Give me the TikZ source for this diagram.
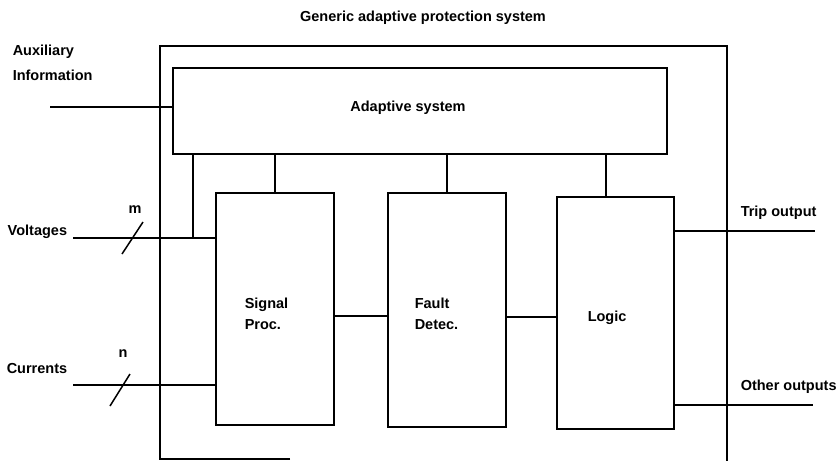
\documentclass[tikz,border=0pt]{standalone}
\usepackage{fontspec}
\setmainfont{Liberation Sans}
\begin{document}
\begin{tikzpicture}[x=1pt,y=-1pt,
  line width=1.5pt,
  every node/.style={font=\fontsize{14.5}{17}\selectfont\bfseries, inner sep=0pt},
  blk/.style={draw, line width=1.5pt, minimum width=#1},
  lbl/.style={anchor=west, align=left}
]
\useasboundingbox (0,0) rectangle (838,461);
% outer frame
\draw (290,459) -- (160,459) -- (160,46) -- (727,46) -- (727,461);
\node (title) at (423,18) {Generic adaptive protection system};
% blocks
\node[blk=494pt, minimum height=86pt] (adapt) at (420,111) {};
\node (adaptlbl) at (408,108) {Adaptive system};
\node[blk=118pt, minimum height=232pt] (sig) at (275,309) {};
\node[blk=118pt, minimum height=234pt] (fault) at (447,310) {};
\node[blk=117pt, minimum height=232pt] (logic) at (615.5,313) {};
\node[lbl] (siglbl) at (244,314) {Signal\\[4pt]Proc.};
\node[lbl] (faultlbl) at (414,314) {Fault\\[4pt]Detec.};
\node[lbl] (logiclbl) at (587,318) {Logic};
% inputs
\node[lbl] (auxlbl) at (12,63) {Auxiliary\\[8pt]Information};
\node[lbl] (vlbl) at (7,232) {Voltages};
\node[lbl] (clbl) at (6,369) {Currents};
\node (mlbl) at (135,210) {m};
\node (nlbl) at (123,354) {n};
\coordinate (ain) at (50,107);
\coordinate (vin) at (73,238);
\coordinate (cin) at (73,385);
\draw (ain) -- (ain -| adapt.west);
\draw (vin) -- (vin -| sig.west);
\draw (cin) -- (cin -| sig.west);
\coordinate (vs1) at (122,254); \coordinate (vs2) at (143,222);
\coordinate (cs1) at (110,406); \coordinate (cs2) at (130,374);
\draw (vs1) -- (vs2);
\draw (cs1) -- (cs2);
% adaptive links
\coordinate (vj) at (193,238);
\draw (vj) -- (vj |- adapt.south);
\draw (sig.north) -- (sig.north |- adapt.south);
\draw (fault.north) -- (fault.north |- adapt.south);
\coordinate (lj) at (606,0);
\draw (lj |- logic.north) -- (lj |- adapt.south);
% chain
\coordinate (sf) at (0,316);
\draw (sig.east |- sf) -- (fault.west |- sf);
\coordinate (fl) at (0,317);
\draw (fault.east |- fl) -- (logic.west |- fl);
% outputs
\coordinate (trip) at (815,231);
\coordinate (oth) at (813,405);
\draw (logic.east |- trip) -- (trip);
\draw (logic.east |- oth) -- (oth);
\node[lbl] (triplbl) at (740,213) {Trip output};
\node[lbl] (othlbl) at (740,387) {Other outputs};
\end{tikzpicture}
\end{document}
